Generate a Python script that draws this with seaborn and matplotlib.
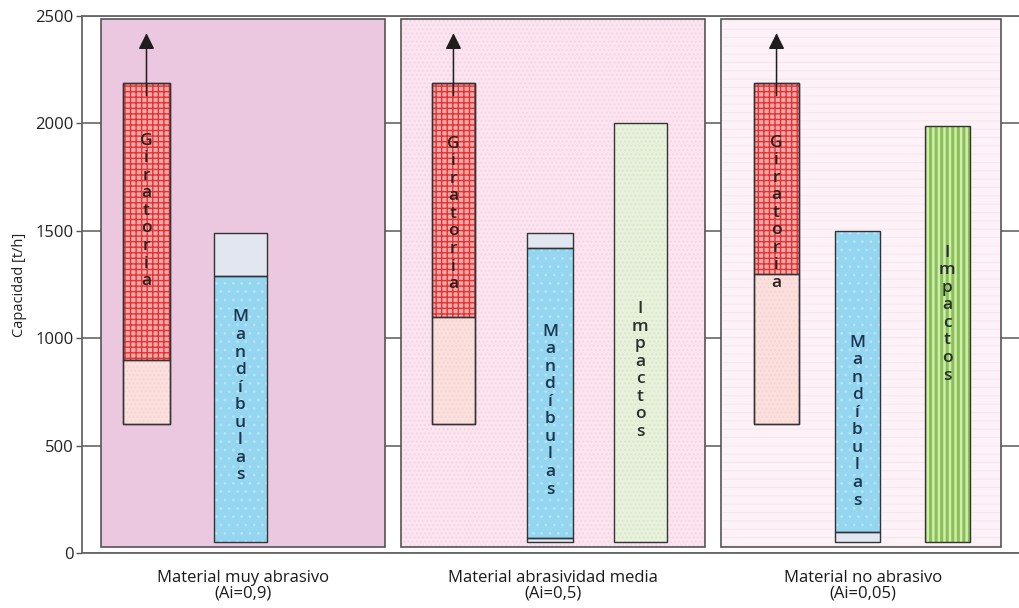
import matplotlib
matplotlib.use("Agg")
import matplotlib.pyplot as plt
import seaborn as sns

# Material groups shown along the x axis
groups = [
    "Material muy abrasivo\n(Ai=0,9)",
    "Material abrasividad media\n(Ai=0,5)",
    "Material no abrasivo\n(Ai=0,05)",
]
yticks = [0, 500, 1000, 1500, 2000, 2500]

# Trituradora giratoria: lower limit, start of the recommended zone, upper limit
gir_low = [600, 600, 600]
gir_mid = [900, 1100, 1300]
gir_high = [2190, 2190, 2190]
gir_arrow = [2420, 2420, 2420]

# Trituradora de mandíbulas: full range and recommended (blue) zone
man_low = [50, 50, 50]
man_blue_lo = [50, 70, 100]
man_blue_hi = [1290, 1420, 1500]
man_high = [1490, 1490, 1500]

# Trituradora de impactos (not used with very abrasive material)
imp_low = [None, 50, 50]
imp_high = [None, 2000, 1990]

# ---- layout (group index offsets, widths, text anchors) ----
panel_off = [0.0, 0.0, -0.006]
panel_w = [0.916, 0.981, 0.903]
panel_lo, panel_hi = 28, 2487
gir_off, gir_w = [-0.311, -0.321, -0.279], [0.152, 0.139, 0.145]
man_off, man_w = [-0.008, -0.010, -0.018], [0.171, 0.148, 0.145]
imp_off, imp_w = [None, 0.282, 0.272], [None, 0.171, 0.145]
gir_txt = [1593, 1579, 1584]
man_txt = [729, 663, 612]
imp_txt = [None, 850, 1112]

sns.set_theme(style="white")
plt.rcParams["font.family"] = ["Open Sans", "DejaVu Sans"]
plt.rcParams["hatch.linewidth"] = 0.8

fig = plt.figure(figsize=(10.19, 6.08), dpi=100)
ax = fig.add_axes([82 / 1019, 1 - 553 / 608, (1019 - 82) / 1019, (553 - 16) / 608])
ax.set_xlim(-0.519, 2.503)
ax.set_ylim(0, 2500)


def seg(x, lo, hi, w, face, hatch=None, hcol=None, z=2, edge="#333333", lw=1.0, hlw=0.8):
    with plt.rc_context({"hatch.linewidth": hlw}):
        ax.bar(x, hi - lo, bottom=lo, width=w, color=face, edgecolor=hcol if hatch else face,
               hatch=hatch, linewidth=0, zorder=z)
    ax.bar(x, hi - lo, bottom=lo, width=w, fill=False, edgecolor=edge, linewidth=lw, zorder=z + 0.1)


def stacked(x, y, word, color):
    ax.text(x, y, "\n".join(word), ha="center", va="center", multialignment="center",
            fontsize=12.5, fontweight="semibold", color=color, linespacing=1.13, zorder=6)


panel_face = ["#ecc8e0", "#fbe4ef", "#fdf2f7"]
panel_hatch = [None, "....", "--"]
panel_hcol = [None, "#f3d3e3", "#f8e6ee"]

for i in range(3):
    seg(i + panel_off[i], panel_lo, panel_hi, panel_w[i], panel_face[i],
        panel_hatch[i], panel_hcol[i], z=1, edge="#555555", lw=1.2)

    # Giratoria
    xg = i + gir_off[i]
    seg(xg, gir_low[i], gir_mid[i], gir_w[i], "#fbe0de", "....", "#f4d2cf", z=2)
    seg(xg, gir_mid[i], gir_high[i], gir_w[i], "#f6a9a9", "+++", "#e43233", z=2, hlw=1.0)
    ax.bar(xg, gir_high[i] - gir_low[i], bottom=gir_low[i], width=gir_w[i], fill=False,
           edgecolor="#333333", linewidth=1.0, zorder=3)
    ax.annotate("", xy=(xg, gir_arrow[i]), xytext=(xg, gir_high[i] - 60),
                arrowprops=dict(arrowstyle="-|>", color="#1e1e1e", lw=1.1,
                                mutation_scale=24, shrinkA=0, shrinkB=0), zorder=7)
    stacked(xg, gir_txt[i], "Giratoria", "#2a2020")

    # Mandíbulas
    xm = i + man_off[i]
    if man_blue_lo[i] > man_low[i]:
        seg(xm, man_low[i], man_blue_lo[i], man_w[i], "#e1e6f0", z=2)
    seg(xm, man_blue_lo[i], man_blue_hi[i], man_w[i], "#94d5f0", "..", "#b9e4f6", z=2)
    if man_high[i] > man_blue_hi[i]:
        seg(xm, man_blue_hi[i], man_high[i], man_w[i], "#e1e6f0", z=2)
    stacked(xm, man_txt[i], "Mandíbulas", "#1c3550")

    # Impactos
    if imp_high[i] is not None:
        xi = i + imp_off[i]
        if i == 1:
            seg(xi, imp_low[i], imp_high[i], imp_w[i], "#e7f1dc", "....", "#d6e6c6", z=2)
        else:
            seg(xi, imp_low[i], imp_high[i], imp_w[i], "#d2eab5", "|||", "#88c150", z=2, hlw=2.2)
        stacked(xi, imp_txt[i], "Impactos", "#26302a")

# Axes styling
ax.set_yticks(yticks)
ax.set_yticklabels([str(v) for v in yticks], fontsize=12, color="#222222")
ax.set_xticks(range(3))
ax.set_xticklabels(groups, fontsize=12, color="#1a1a1a", linespacing=1.0)
ax.tick_params(axis="x", length=0, pad=12)
ax.tick_params(axis="y", length=4, width=1, color="#555555", pad=2, left=True)
ax.set_ylabel("Capacidad [t/h]", fontsize=10.5, color="#222222", labelpad=6)
ax.yaxis.grid(True, color="#666666", linewidth=1.2)
ax.set_axisbelow(True)
sns.despine(ax=ax, right=True, top=False)
for side in ["left", "bottom", "top"]:
    ax.spines[side].set_color("#666666")
    ax.spines[side].set_linewidth(1.3)

fig.savefig("out.png", dpi=100, facecolor="white")
